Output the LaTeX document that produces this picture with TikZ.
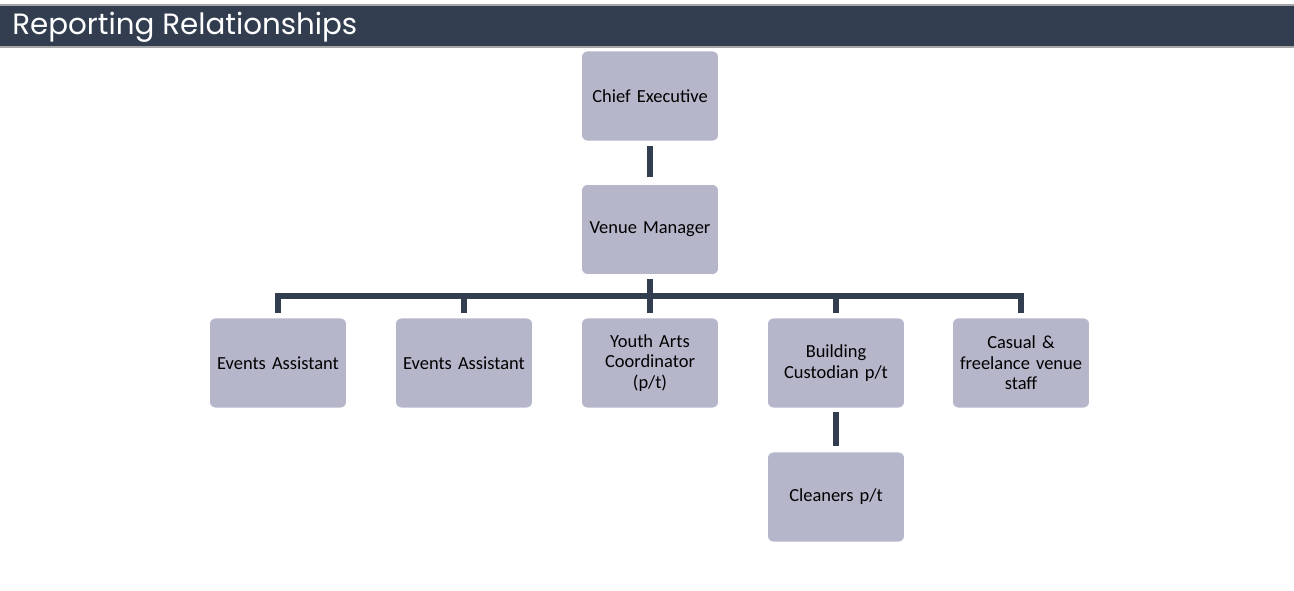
\documentclass[tikz,border=0pt]{standalone}
\usepackage{fontspec}
\setmainfont{Carlito}
\newfontfamily\headfont{Poppins}
\definecolor{hdrnavy}{HTML}{323E50}
\definecolor{hdrgray}{HTML}{A6A6A6}
\definecolor{boxlav}{HTML}{B6B6CB}

\begin{document}
\begin{tikzpicture}[x=0.02cm,y=-0.02cm,
  rolebox/.style={fill=boxlav,draw=white,line width=0.4pt,rounded corners=0.12cm,
    minimum width=2.74cm,minimum height=1.8cm,text width=2.6cm,align=center,
    inner sep=0pt,font=\fontsize{10.5}{11.7}\selectfont},
  link/.style={draw=hdrnavy,line width=0.12cm}]
  \useasboundingbox (0,0) rectangle (1294,591);
  % header band
  \fill[hdrnavy] (0,6) rectangle (1294,47);
  \draw[hdrgray,line width=0.04cm] (0,5.5) -- (1294,5.5);
  \draw[hdrgray,line width=0.04cm] (0,47) -- (1294,47);
  \node[anchor=west,text=white,inner sep=0pt,font=\headfont\fontsize{16.7}{18}\selectfont]
    (title) at (12,27.5) {Reporting Relationships};
  % roles
  \node[rolebox] (ce) at (650,96) {Chief Executive};
  \node[rolebox] (vm) at (650,229.5) {Venue Manager};
  \node[rolebox] (eaa) at (278,363) {Events Assistant};
  \node[rolebox] (eab) at (464,363) {Events Assistant};
  \node[rolebox] (yac) at (650,363) {Youth Arts\\Coordinator\\(p/t)};
  \node[rolebox] (bc) at (836,363) {Building\\Custodian p/t};
  \node[rolebox] (cfv) at (1021,363) {Casual \&\\freelance venue\\staff};
  \node[rolebox] (cl) at (836,497) {Cleaners p/t};
  % reporting lines
  \coordinate (bus) at (650,296);
  \draw[link,shorten <=0.1cm,shorten >=0.14cm] (ce.south) -- (vm.north);
  \draw[link,shorten <=0.08cm] (vm.south) -- (bus);
  \foreach \r in {eaa,eab,yac,bc,cfv}
    \draw[link] ([yshift=0.1cm]\r.north) |- (bus);
  \draw[link,shorten <=0.08cm,shorten >=0.12cm] (bc.south) -- (cl.north);
\end{tikzpicture}
\end{document}
